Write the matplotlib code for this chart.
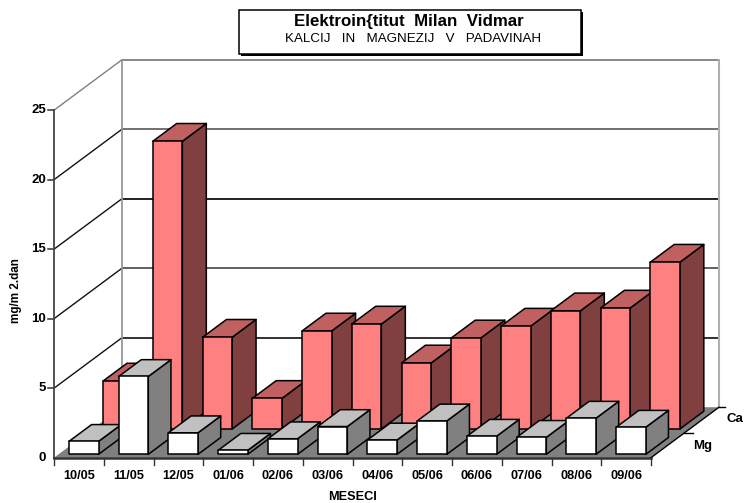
import matplotlib
matplotlib.use('Agg')
from matplotlib import pyplot as plt
from matplotlib.patches import Polygon, Rectangle

plt.rcParams['font.family'] = ['Liberation Sans', 'DejaVu Sans']

months = ['10/05', '11/05', '12/05', '01/06', '02/06', '03/06',
          '04/06', '05/06', '06/06', '07/06', '08/06', '09/06']
ca = [3.45, 20.7, 6.6, 2.2, 7.05, 7.55, 4.75, 6.55, 7.4, 8.5, 8.7, 12.0]
mg = [0.93, 5.6, 1.55, 0.29, 1.12, 2.0, 1.03, 2.4, 1.3, 1.22, 2.6, 1.95]
y_ticks = [0, 5, 10, 15, 20, 25]
back_colors = ['#444444', '#222222', '#555555', '#111111', '#666666', '#808080']
side_colors = ['#111111', '#111111', '#111111', '#111111', '#111111', '#808080']

# pixels per category / per unit, oblique depth of the whole floor
CAT = 49.75
UNIT = 13.9
DX = 68 / CAT
DY = 50.5 / UNIT
GAP = 10.4 / CAT
BAR = 29.6 / CAT
N = len(months)


def pr(x, v, d=0.0):
    return (x + d * DX, v + d * DY)


def box(ax, i, value, d0, d1, front, top, side):
    x0, x1 = i + GAP, i + GAP + BAR
    kw = dict(edgecolor='black', linewidth=1.1, joinstyle='round', zorder=3)
    ax.add_patch(Polygon([pr(x1, 0, d0), pr(x1, 0, d1), pr(x1, value, d1), pr(x1, value, d0)],
                         facecolor=side, **kw))
    ax.add_patch(Polygon([pr(x0, value, d0), pr(x1, value, d0), pr(x1, value, d1), pr(x0, value, d1)],
                         facecolor=top, **kw))
    ax.add_patch(Polygon([pr(x0, 0, d0), pr(x1, 0, d0), pr(x1, value, d0), pr(x0, value, d0)],
                         facecolor=front, **kw))


fig = plt.figure(figsize=(7.44, 5.03), dpi=100)
ax = fig.add_axes([0, 0, 1, 1])
ax.set_xlim(-54 / CAT, (744 - 54) / CAT)
ax.set_ylim((457.7 - 503) / UNIT, 457.7 / UNIT)
ax.axis('off')

# walls and grid
for v, bc, sc in zip(y_ticks[1:], back_colors[1:], side_colors[1:]):
    ax.plot(*zip(pr(0, v, 1), pr(N, v, 1)), color=bc, lw=1.3, zorder=1)
    ax.plot(*zip(pr(0, v), pr(0, v, 1)), color=sc, lw=1.0, zorder=1)
    ax.plot(*zip(pr(0, v), pr(-0.12, v)), color='#333333', lw=1.1, zorder=1)
ax.plot(*zip(pr(0, 0, 1), pr(0, 25, 1)), color='#999999', lw=1.3, zorder=1)
ax.plot(*zip(pr(N, 0, 1), pr(N, 25, 1)), color='#b0b0b0', lw=1.5, zorder=1)
ax.plot(*zip(pr(0, 0), pr(0, 25)), color='#444444', lw=1.3, zorder=1)

# floor
ax.add_patch(Polygon([pr(0, 0), pr(N, 0), pr(N, 0, 1), pr(0, 0, 1)],
                     facecolor='#808080', edgecolor='none', zorder=1.5))
ax.plot(*zip(pr(0, 0), pr(N, 0)), color='#333333', lw=1.8, zorder=1.6)
ax.plot(*zip(pr(N, 0), pr(N, 0, 1)), color='black', lw=1, zorder=1.6)

# bars, back row first
for i in range(N):
    box(ax, i, ca[i], 0.568, 0.92, '#ff8080', '#c06060', '#804040')
for i in range(N):
    box(ax, i, mg[i], 0.067, 0.40, 'white', '#c0c0c0', '#808080')

# ticks and labels
for i in range(N + 1):
    ax.plot([i, i], [0, -0.55], color='#333333', lw=1, zorder=1.6)
for i, m in enumerate(months):
    ax.text(i + 0.5, -1.35, m, ha='center', va='center', fontsize=9.2, fontweight='bold')
for v in y_ticks:
    ax.text(-0.155, v, str(v), ha='right', va='center', fontsize=9.5, fontweight='bold')
ax.plot(*zip(pr(N, 0, 1), pr(N + 0.13, 0, 1)), color='black', lw=1)
ax.plot(*zip(pr(N, 0, 0.48), pr(N + 0.18, 0, 0.48)), color='black', lw=1)
ax.text(N + 1.51, 2.78, 'Ca', ha='left', va='center', fontsize=9.5, fontweight='bold')
ax.text(N + 0.84, 0.84, 'Mg', ha='left', va='center', fontsize=9.5, fontweight='bold')
ax.text(6.0, -2.82, 'MESECI', ha='center', va='center', fontsize=9.2, fontweight='bold')
ax.text(-0.77, 12.06, 'mg/m 2.dan', rotation=90, ha='center', va='center', fontsize=8.4, fontweight='bold')

# title box with shadow
tr = ax.transAxes
W, H = 744.0, 503.0
ax.add_patch(Rectangle((241 / W, 1 - 56 / H), 342 / W, 44 / H, transform=tr,
                       facecolor='black', edgecolor='none', zorder=5))
ax.add_patch(Rectangle((239 / W, 1 - 53.5 / H), 342 / W, 43.5 / H, transform=tr,
                       facecolor='white', edgecolor='black', linewidth=1.1, zorder=6))
ax.text(409 / W, 1 - 21.5 / H, 'Elektroin{titut  Milan  Vidmar', transform=tr, ha='center',
        va='center', fontsize=12.2, fontweight='bold', zorder=7)
ax.text(413.5 / W, 1 - 38.5 / H, 'KALCIJ   IN   MAGNEZIJ   V   PADAVINAH', transform=tr, ha='center',
        va='center', fontsize=9.6, zorder=7)

plt.savefig('out.png', dpi=100)
